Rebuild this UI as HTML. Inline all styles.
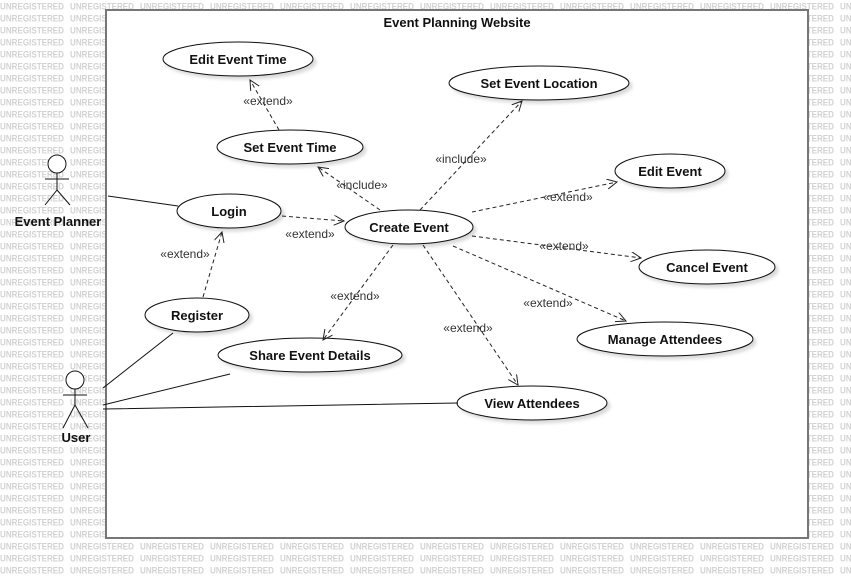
<!DOCTYPE html>
<html><head><meta charset="utf-8"><style>
html,body{margin:0;padding:0;background:#fff;}
svg{display:block;font-family:"Liberation Sans",sans-serif;}
</style></head><body>
<svg width="851" height="578" viewBox="0 0 851 578" xmlns="http://www.w3.org/2000/svg">
<defs>
<pattern id="wm" x="0" y="0" width="70" height="12" patternUnits="userSpaceOnUse">
<text x="0" y="9.5" font-size="9" font-weight="bold" fill="#d2d2d2" textLength="64" lengthAdjust="spacingAndGlyphs">UNREGISTERED</text>
</pattern>
<marker id="ar" markerWidth="12" markerHeight="12" refX="10" refY="5" orient="auto" markerUnits="userSpaceOnUse">
<path d="M0,0 L10,5 L0,10" fill="none" stroke="#222" stroke-width="1"/>
</marker>
<filter id="sh" x="-20%" y="-20%" width="140%" height="160%"><feDropShadow dx="3" dy="3" stdDeviation="1.5" flood-color="#000" flood-opacity="0.15"/></filter>
</defs>
<rect width="851" height="578" fill="url(#wm)"/>
<rect x="106" y="10" width="702" height="528" fill="#fff" stroke="#777" stroke-width="2"/>
<text x="457" y="27" font-size="13" font-weight="bold" text-anchor="middle" fill="#111">Event Planning Website</text>

<g fill="#fff" stroke="#111" stroke-width="1" filter="url(#sh)">
<ellipse cx="238" cy="59" rx="75" ry="17"/>
<ellipse cx="290" cy="147" rx="73" ry="17"/>
<ellipse cx="539" cy="83" rx="90" ry="17"/>
<ellipse cx="670" cy="171" rx="55" ry="17"/>
<ellipse cx="229" cy="211" rx="52" ry="17"/>
<ellipse cx="409" cy="227" rx="64" ry="17"/>
<ellipse cx="707" cy="267" rx="68" ry="17"/>
<ellipse cx="197" cy="315" rx="52" ry="17"/>
<ellipse cx="310" cy="355" rx="92" ry="17"/>
<ellipse cx="665" cy="339" rx="88" ry="17"/>
<ellipse cx="532" cy="403" rx="75" ry="17"/>
</g>
<g font-size="13" font-weight="bold" text-anchor="middle" fill="#111">
<text x="238" y="64">Edit Event Time</text>
<text x="290" y="152">Set Event Time</text>
<text x="539" y="88">Set Event Location</text>
<text x="670" y="176">Edit Event</text>
<text x="229" y="216">Login</text>
<text x="409" y="232">Create Event</text>
<text x="707" y="272">Cancel Event</text>
<text x="197" y="320">Register</text>
<text x="310" y="360">Share Event Details</text>
<text x="665" y="344">Manage Attendees</text>
<text x="532" y="408">View Attendees</text>
</g>

<g stroke="#111" stroke-width="1" fill="none">
<circle cx="57" cy="164" r="9" fill="#fff"/>
<path d="M57,173 V190 M45,179 H69 M57,190 L45,205 M57,190 L70,205"/>
<circle cx="75" cy="380" r="9" fill="#fff"/>
<path d="M75,389 V405 M63,395 H87 M75,405 L63,428 M75,405 L88,428"/>
<path d="M108,196 L178,206 M103,388 L173,333 M103,405 L230,374 M103,409 L458,403"/>
</g>
<g font-size="13" font-weight="bold" text-anchor="middle" fill="#111">
<text x="58" y="226">Event Planner</text>
<text x="76" y="442">User</text>
</g>

<g stroke="#222" stroke-width="1" fill="none" stroke-dasharray="4,3" marker-end="url(#ar)">
<path d="M203,297 L222,232"/>
<path d="M279,130 L250,80"/>
<path d="M380,210 L318,167"/>
<path d="M420,210 L522,101"/>
<path d="M282,216 L344,221"/>
<path d="M472,212 L617,182"/>
<path d="M472,236 L641,258"/>
<path d="M453,246 L626,321"/>
<path d="M393,245 L323,340"/>
<path d="M423,245 L518,385"/>
</g>
<g font-size="12" text-anchor="middle" fill="#333">
<text x="185" y="258">«extend»</text>
<text x="268" y="105">«extend»</text>
<text x="362" y="189">«include»</text>
<text x="461" y="163">«include»</text>
<text x="310" y="238">«extend»</text>
<text x="568" y="201">«extend»</text>
<text x="564" y="250">«extend»</text>
<text x="548" y="307">«extend»</text>
<text x="355" y="300">«extend»</text>
<text x="468" y="332">«extend»</text>
</g>
</svg>
</body></html>
